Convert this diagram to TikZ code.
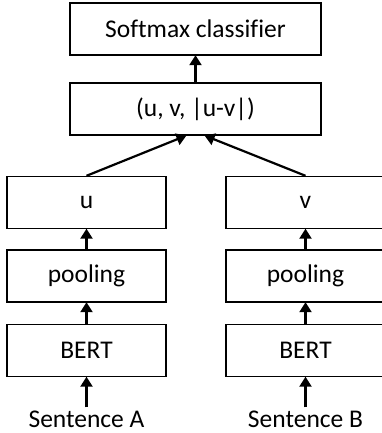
\documentclass[tikz,border=0pt]{standalone}
\usepackage{fontspec}
\setmainfont{Carlito}[Ligatures=NoCommon]
\usetikzlibrary{arrows.meta}
\begin{document}
\begin{tikzpicture}[x=1pt,y=1pt,
  blk/.style={draw=black, line width=1.4pt, minimum height=52pt, inner sep=0pt, font=\fontsize{25.5}{30}\selectfont},
  wide/.style={blk, minimum width=251pt},
  narrow/.style={blk, minimum width=159pt},
  lbl/.style={font=\fontsize{25.5}{30}\selectfont, inner sep=0pt},
  arr/.style={line width=2.2pt, -{Triangle[width=12pt,length=10pt]}, shorten >=-0.5pt}
]
\useasboundingbox (0,0) rectangle (382,-433);
\clip (0,0) rectangle (382,-433);
\node[wide] (soft) at (195.5,-29) {Softmax classifier};
\node[wide] (cat) at (195.5,-109) {(u, v, |u-v|)};
\node[narrow] (u) at (86.5,-202.5) {u};
\node[narrow] (pl) at (86.5,-276) {pooling};
\node[narrow] (bl) at (86.5,-350.5) {BERT};
\node[narrow] (v) at (305.5,-202.5) {v};
\node[narrow] (pr) at (305.5,-276) {pooling};
\node[narrow] (br) at (305.5,-350.5) {BERT};
\node[lbl] (sa) at (86.5,-419) {Sentence A};
\node[lbl] (sb) at (305.5,-419) {Sentence B};
\coordinate (cl) at ([xshift=-9.5pt]cat.south);
\coordinate (cr) at ([xshift=9.5pt]cat.south);
\draw[arr] (cat.north) -- (soft.south);
\draw[arr] (u.north) -- (cl);
\draw[arr] (v.north) -- (cr);
\draw[arr] (pl.north) -- (u.south);
\draw[arr] (pr.north) -- (v.south);
\draw[arr] (bl.north) -- (pl.south);
\draw[arr] (br.north) -- (pr.south);
\draw[arr] ([yshift=3pt]sa.north) -- (bl.south);
\draw[arr] ([yshift=3pt]sb.north) -- (br.south);
\end{tikzpicture}
\end{document}
